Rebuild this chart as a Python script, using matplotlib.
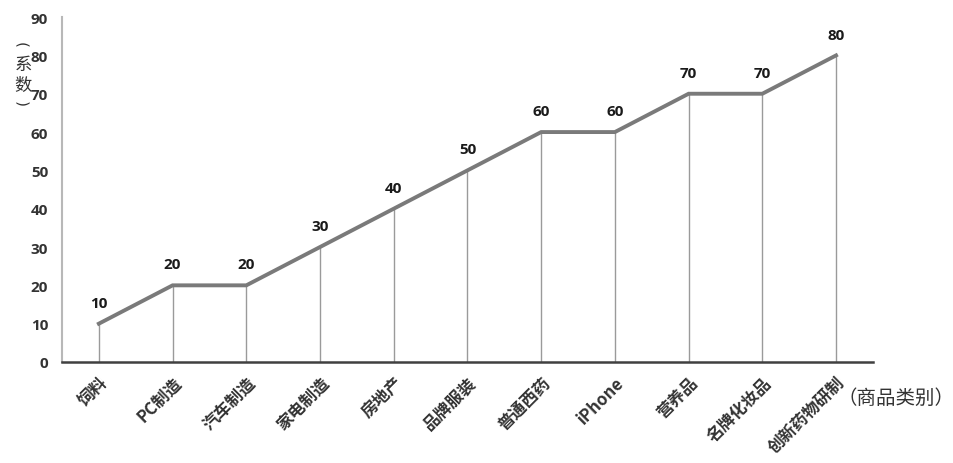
import matplotlib
matplotlib.use("Agg")
import matplotlib.pyplot as plt
from matplotlib.textpath import TextPath
from matplotlib.patches import PathPatch
from matplotlib.font_manager import FontProperties
from matplotlib.transforms import Affine2D

plt.rcParams['font.family'] = ['Noto Sans CJK SC', 'DejaVu Sans']

categories = ["饲料", "PC制造", "汽车制造", "家电制造", "房地产", "品牌服装",
              "普通西药", "iPhone", "营养品", "名牌化妆品", "创新药物研制"]
values = [10, 20, 20, 30, 40, 50, 60, 60, 70, 70, 80]
y_ticks = [0, 10, 20, 30, 40, 50, 60, 70, 80, 90]

W, H = 954, 464
fig = plt.figure(figsize=(W / 100, H / 100), dpi=100)
ax = fig.add_axes([0.065, 0.2177, 0.85, 0.7433])

x = list(range(len(categories)))

# thin droplines from each point to the axis
ax.vlines(x, 0, values, colors="#9a9a9a", linewidth=1.0, zorder=1)
ax.plot(x, values, color="#7a7a7a", linewidth=2.8, solid_joinstyle="miter", zorder=2)

for xi, v in zip(x, values):
    ax.annotate(str(v), xy=(xi, v), xytext=(0, 10), textcoords="offset points",
                ha="center", va="bottom", fontsize=11, fontweight="bold",
                color="#1a1a1a", family=["Open Sans", "DejaVu Sans"])

ax.set_xlim(-0.5, 10.5)
ax.set_ylim(0, 90)
ax.set_yticks(y_ticks)
ax.set_yticklabels([str(t) for t in y_ticks], fontsize=11, fontweight="bold",
                   color="#333333", family=["Open Sans", "DejaVu Sans"])
ax.set_xticks(x)
ax.set_xticklabels(categories, rotation=45, ha="right", va="top",
                   rotation_mode="anchor", fontsize=12, fontweight="bold", color="#333333")
ax.tick_params(axis="both", length=0)
ax.tick_params(axis="x", pad=8)
ax.tick_params(axis="y", pad=10)

for side in ["top", "right"]:
    ax.spines[side].set_visible(False)
ax.spines["left"].set_color("#b8b8b8")
ax.spines["left"].set_linewidth(1.5)
ax.spines["bottom"].set_color("#404040")
ax.spines["bottom"].set_linewidth(1.8)

# vertical y label: characters upright, parentheses turned sideways
ylab_px = 23
fig.text(ylab_px / W, 1 - 65 / H, "系", ha="center", va="center", fontsize=12.5, color="#333333")
fig.text(ylab_px / W, 1 - 86 / H, "数", ha="center", va="center", fontsize=12.5, color="#333333")


def sideways_paren(ch, py):
    # center the glyph ink, then turn it a quarter clockwise
    tp = TextPath((0, 0), ch, size=15, prop=FontProperties(family="DejaVu Sans"))
    ext = tp.get_extents()
    cx, cy = (ext.x0 + ext.x1) / 2, (ext.y0 + ext.y1) / 2
    tr = Affine2D().translate(-cx, -cy).rotate_deg(-90).translate(ylab_px, H - py)
    fig.add_artist(PathPatch(tp, transform=tr, facecolor="#333333", edgecolor="none"))


sideways_paren("(", 46)
sideways_paren(")", 105)

fig.text(838 / W, 1 - 398 / H, "（商品类别）", ha="left", va="center",
         fontsize=14, color="#333333")

fig.savefig("out.png", dpi=100)
